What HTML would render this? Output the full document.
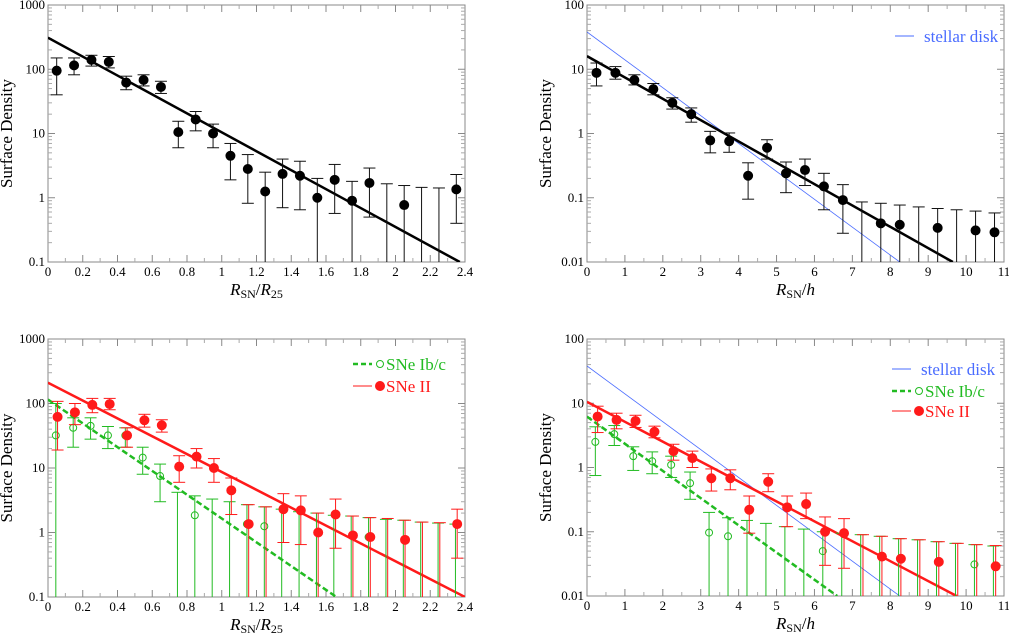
<!DOCTYPE html>
<html><head><meta charset="utf-8"><style>
body{margin:0;background:#fff}
svg{display:block;font-family:"Liberation Serif",serif}
</style></head><body>
<svg id="c" width="1009" height="633" viewBox="0 0 1009 633" xmlns="http://www.w3.org/2000/svg"></svg>
<script>
// ---- data ----
const xR25 = [0.05,0.15,0.25,0.35,0.45,0.55,0.65,0.75,0.85,0.95,1.05,1.15,1.25,1.35,1.45,1.55,1.65,1.75,1.85,1.95,2.05,2.15,2.25,2.35];
const allR25 = [95,115,140,130,62,68,53,10.5,16.5,10,4.5,2.8,1.25,2.35,2.2,1.0,1.9,0.9,1.7,null,0.77,null,null,1.35];
const allR25Hi = [150,150,165,158,78,82,65,15.5,22,14,7,4.7,2.5,4,3.7,2,3.3,1.8,2.9,1.65,1.55,1.45,1.42,2.3];
const allR25Lo = [40,82,112,105,48,55,42,6,11,6,1.9,0.82,0.01,0.7,0.65,0.01,0.57,0.01,0.5,0.01,0.01,0.01,0.01,0.4];
const fitAllR25 = [310, 0.1, 2.37];

const ibcR25 = [32,42,45,32,32,14.5,7.5,null,1.85,null,null,1.35,1.25,null,null,null,null,null,0.85,null,null,null,null,null];
const ibcR25Hi = [100,60,60,44,42,21,11.5,4.2,3.7,3.3,3,2.7,2.5,2.3,2.1,2,1.85,1.8,1.7,1.6,1.55,1.45,1.4,1.35];
const ibcR25Lo = [0.01,21,28,20,21,8,3,0.01,0.01,0.01,0.01,0.01,0.01,0.01,0.01,0.01,0.01,0.01,0.01,0.01,0.01,0.01,0.01,0.01];
const iiR25 = [62,73,95,98,32,55,46,10.5,15,10,4.5,1.35,null,2.3,2.2,1.0,1.9,0.9,0.85,null,0.77,null,null,1.35];
const iiR25Hi = [108,100,120,120,42,68,56,15.5,20,14,7,2.7,2.5,4,3.7,2,3.3,1.8,1.7,1.65,1.55,1.45,1.42,2.3];
const iiR25Lo = [19,47,72,80,21,43,36,6,10,6,1.9,0.01,0.01,0.7,0.65,0.01,0.57,0.01,0.01,0.01,0.01,0.01,0.01,0.4];
const fitIbcR25 = [115, 0.1, 1.66];
const fitIIR25 = [210, 0.1, 2.4];

const xH = [0.25,0.75,1.25,1.75,2.25,2.75,3.25,3.75,4.25,4.75,5.25,5.75,6.25,6.75,7.25,7.75,8.25,8.75,9.25,9.75,10.25,10.75];
const allH = [8.8,8.8,6.8,4.9,3,2,0.78,0.76,0.22,0.6,0.24,0.27,0.15,0.092,null,0.04,0.038,null,0.034,null,0.031,0.029];
const allHHi = [12.5,11,8.2,6,3.6,2.5,1.08,1.02,0.35,0.8,0.36,0.4,0.24,0.16,0.086,0.082,0.077,0.072,0.068,0.065,0.062,0.058];
const allHLo = [5.5,7,5.7,4,2.4,1.5,0.5,0.51,0.095,0.4,0.12,0.155,0.065,0.028,0.001,0.001,0.001,0.001,0.001,0.001,0.001,0.001];
const fitAllH = [16, 0.01, 9.65];
const diskH = [38, 0.01, 8.25];

const ibcH = [2.5,3.3,1.5,1.25,1.1,0.57,0.097,0.085,null,null,null,null,0.05,null,null,null,null,null,null,null,0.031,null];
const ibcHHi = [4.3,4.5,2.1,1.75,1.5,0.85,0.2,0.165,0.15,0.135,0.12,0.11,0.1,0.095,0.09,0.085,0.078,0.075,0.07,0.066,0.063,0.06];
const ibcHLo = [0.75,2.2,0.9,0.8,0.7,0.32,0.001,0.001,0.001,0.001,0.001,0.001,0.001,0.001,0.001,0.001,0.001,0.001,0.001,0.001,0.001,0.001];
const iiH = [6.2,5.5,5.3,3.6,1.8,1.4,0.68,0.68,0.22,0.6,0.24,0.27,0.1,0.095,null,0.041,0.038,null,0.034,null,null,0.029];
const iiHHi = [9,7,6.5,4.4,2.3,1.8,0.95,0.92,0.36,0.8,0.36,0.4,0.17,0.16,0.09,0.085,0.078,0.075,0.07,0.066,0.063,0.061];
const iiHLo = [3.5,4,4.2,2.9,1.3,1.0,0.43,0.45,0.095,0.42,0.12,0.16,0.03,0.027,0.001,0.001,0.001,0.001,0.001,0.001,0.001,0.001];
const fitIbcH = [6.2, 0.01, 6.6];
const fitIIH = [10.5, 0.01, 9.75];

const ticksR25 = [0,0.2,0.4,0.6,0.8,1,1.2,1.4,1.6,1.8,2,2.2,2.4];
const ticksH = [0,1,2,3,4,5,6,7,8,9,10,11];
const yTicksA = [0.1,1,10,100,1000];
const yTicksB = [0.01,0.1,1,10,100];

// ---- drawing ----
const NS="http://www.w3.org/2000/svg";
const svg=document.getElementById('c');
function el(tag,attrs,parent,name){const e=document.createElementNS(NS,tag);for(const k in attrs)e.setAttribute(k,attrs[k]);


(parent||svg).appendChild(e);return e;}

function panel(p){
  const g=el('g',{},svg,p.name);
  const X=v=>p.x0+(v-p.xmin)/(p.xmax-p.xmin)*(p.x1-p.x0);
  const lmin=Math.log10(p.ymin), lmax=Math.log10(p.ymax);
  const Y=v=>p.y1-(Math.log10(v)-lmin)/(lmax-lmin)*(p.y1-p.y0);
  el('defs',{},g,'defs').innerHTML=`<clipPath id="cl${p.id}"><rect x="${p.x0}" y="${p.y0}" width="${p.x1-p.x0}" height="${p.y1-p.y0}"/></clipPath>`;
  el('rect',{x:p.x0,y:p.y0,width:p.x1-p.x0,height:p.y1-p.y0,fill:'none',stroke:'#888','stroke-width':1},g,'plot-frame');
  const step=p.xticks[1]-p.xticks[0];
  p.xticks.forEach(t=>{
    const x=X(t);
    el('line',{x1:x,x2:x,y1:p.y1,y2:p.y1-7,stroke:'#888'},g,'x-tick');
    el('line',{x1:x,x2:x,y1:p.y0,y2:p.y0+7,stroke:'#888'},g,'x-tick-top');
    const tx=el('text',{x:x,y:p.y1+14,'font-size':13,'text-anchor':'middle'},g,'x-tick-label');tx.textContent=String(t);
    for(let k=1;k<p.xminor;k++){const xv=t+step*k/p.xminor;if(xv>p.xmax+1e-9)break;const xm=X(xv);
      el('line',{x1:xm,x2:xm,y1:p.y1,y2:p.y1-4,stroke:'#aaa'},g,'x-minor-tick');
      el('line',{x1:xm,x2:xm,y1:p.y0,y2:p.y0+4,stroke:'#aaa'},g,'x-minor-tick-top');}
  });
  p.yticks.forEach((t,i)=>{
    const y=Y(t);
    el('line',{x1:p.x0,x2:p.x0+7,y1:y,y2:y,stroke:'#888'},g,'y-tick');
    el('line',{x1:p.x1,x2:p.x1-7,y1:y,y2:y,stroke:'#888'},g,'y-tick-right');
    const tx=el('text',{x:p.x0-3,y:y+4,'font-size':13,'text-anchor':'end'},g,'y-tick-label');tx.textContent=String(t);
    if(i<p.yticks.length-1)for(let k=2;k<10;k++){const ym=Y(t*k);
      el('line',{x1:p.x0,x2:p.x0+4,y1:ym,y2:ym,stroke:'#aaa'},g,'y-minor-tick');
      el('line',{x1:p.x1,x2:p.x1-4,y1:ym,y2:ym,stroke:'#aaa'},g,'y-minor-tick-right');}
  });
  const yl=el('text',{x:0,y:0,'font-size':17,'text-anchor':'middle',transform:`translate(${p.x0-p.ylOff},${(p.y0+p.y1)/2}) rotate(-90)`},g,'y-axis-title');yl.textContent='Surface Density';
  const xl=el('text',{x:(p.x0+p.x1)/2,y:p.y1+33,'font-size':17,'text-anchor':'middle'},g,'x-axis-title');
  xl.innerHTML=p.xlab;
  const cg=el('g',{'clip-path':`url(#cl${p.id})`},g,'plot-area');
  p.lines.forEach(L=>{
    const [a,b,xe]=L.fit;
    el('line',{x1:X(0),y1:Y(a),x2:X(xe),y2:Y(b),stroke:L.color,'stroke-width':L.w,'stroke-dasharray':L.dash||'none'},cg,L.name);
  });
  p.series.forEach(S=>{
    const sg=el('g',{},cg,S.name);
    S.x.forEach((xv,i)=>{
      const x=X(xv+S.dx);
      const hi=S.hi[i], lo=Math.max(S.lo[i],p.ymin*0.5);
      el('line',{x1:x,x2:x,y1:Y(hi),y2:Y(lo),stroke:S.ecolor,'stroke-width':1},sg,'error-bar');
      el('line',{x1:x-6,x2:x+6,y1:Y(hi),y2:Y(hi),stroke:S.ecolor,'stroke-width':1},sg,'error-cap');
      if(S.lo[i]>p.ymin)el('line',{x1:x-6,x2:x+6,y1:Y(S.lo[i]),y2:Y(S.lo[i]),stroke:S.ecolor,'stroke-width':1},sg,'error-cap');
      if(S.y[i]!=null){
        el('circle',{cx:x,cy:Y(S.y[i]),r:S.open?3.5:4.5,fill:S.open?'none':S.color,stroke:S.color,'stroke-width':1},sg,'data-point');
      }
    });
  });
  (p.legend||[]).forEach((L,i)=>{
    const lg=el('g',{},g,'legend-entry');
    const ly=p.y0+L.dy;
    el('line',{x1:L.x,x2:L.x+19,y1:ly,y2:ly,stroke:L.color,'stroke-width':L.w,'stroke-dasharray':L.dash||'none'},lg,'legend-line');
    if(L.marker)el('circle',{cx:L.x+27,cy:ly,r:L.marker==='open'?3.5:4.5,fill:L.marker==='open'?'none':L.color,stroke:L.color},lg,'legend-marker');
    const t=el('text',{x:L.x+(L.marker?33:29),y:ly+6,'font-size':17,fill:L.color},lg,'legend-label');t.textContent=L.text;
  });
}
const labR25='<tspan font-style="italic">R</tspan><tspan font-size="12" dy="3">SN</tspan><tspan dy="-3">/</tspan><tspan font-style="italic">R</tspan><tspan font-size="12" dy="3">25</tspan>';
const labH='<tspan font-style="italic">R</tspan><tspan font-size="12" dy="3">SN</tspan><tspan dy="-3">/</tspan><tspan font-style="italic">h</tspan>';
const blue='#4a6cff', green='#22bb22', red='#ff1a1a';

panel({id:1,name:'panel-top-left',x0:48,x1:465,y0:5,y1:262,xmin:0,xmax:2.4,ymin:0.1,ymax:1000,xticks:ticksR25,xminor:2,yticks:yTicksA,ylOff:36,xlab:labR25,
 lines:[{fit:fitAllR25,color:'#000',w:2.5,name:'fit-line'}],
 series:[{name:'all-sne',x:xR25,y:allR25,hi:allR25Hi,lo:allR25Lo,dx:0,color:'#000',ecolor:'#111'}]});
panel({id:2,name:'panel-top-right',x0:587,x1:1004,y0:5,y1:262,xmin:0,xmax:11,ymin:0.01,ymax:100,xticks:ticksH,xminor:2,yticks:yTicksB,ylOff:36,xlab:labH,
 lines:[{fit:diskH,color:blue,w:0.8,name:'stellar-disk-line'},{fit:fitAllH,color:'#000',w:2.5,name:'fit-line'}],
 series:[{name:'all-sne',x:xH,y:allH,hi:allHHi,lo:allHLo,dx:0,color:'#000',ecolor:'#111'}],
 legend:[{x:895,dy:31,color:blue,w:1,text:'stellar disk'}]});
panel({id:3,name:'panel-bottom-left',x0:48,x1:465,y0:339,y1:597,xmin:0,xmax:2.4,ymin:0.1,ymax:1000,xticks:ticksR25,xminor:2,yticks:yTicksA,ylOff:36,xlab:labR25,
 lines:[{fit:fitIbcR25,color:green,w:2.5,dash:'6,3',name:'ibc-fit-line'},{fit:fitIIR25,color:red,w:2.5,name:'ii-fit-line'}],
 series:[{name:'sne-ibc',x:xR25,y:ibcR25,hi:ibcR25Hi,lo:ibcR25Lo,dx:-0.005,color:green,ecolor:green,open:true},
         {name:'sne-ii',x:xR25,y:iiR25,hi:iiR25Hi,lo:iiR25Lo,dx:0.005,color:red,ecolor:red}],
 legend:[{x:353,dy:25,color:green,w:2.5,dash:'5,3',marker:'open',text:'SNe Ib/c'},{x:353,dy:47,color:red,w:1,marker:'filled',text:'SNe II'}]});
panel({id:4,name:'panel-bottom-right',x0:587,x1:1004,y0:339,y1:596,xmin:0,xmax:11,ymin:0.01,ymax:100,xticks:ticksH,xminor:2,yticks:yTicksB,ylOff:36,xlab:labH,
 lines:[{fit:diskH,color:blue,w:0.8,name:'stellar-disk-line'},{fit:fitIbcH,color:green,w:2.5,dash:'6,3',name:'ibc-fit-line'},{fit:fitIIH,color:red,w:2.5,name:'ii-fit-line'}],
 series:[{name:'sne-ibc',x:xH,y:ibcH,hi:ibcHHi,lo:ibcHLo,dx:-0.03,color:green,ecolor:green,open:true},
         {name:'sne-ii',x:xH,y:iiH,hi:iiHHi,lo:iiHLo,dx:0.03,color:red,ecolor:red}],
 legend:[{x:892,dy:30,color:blue,w:1,text:'stellar disk'},{x:892,dy:52,color:green,w:2.5,dash:'5,3',marker:'open',text:'SNe Ib/c'},{x:892,dy:72,color:red,w:1,marker:'filled',text:'SNe II'}]});
</script>
</body></html>
